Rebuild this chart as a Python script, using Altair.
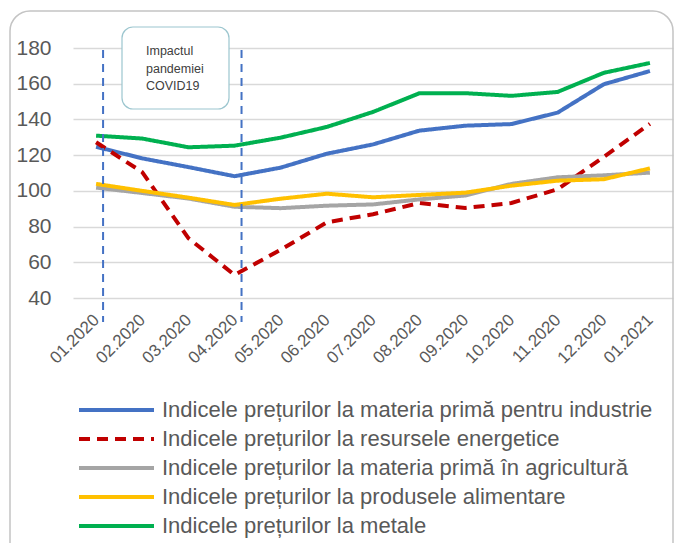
import altair as alt
import pandas as pd

months = ["01.2020", "02.2020", "03.2020", "04.2020", "05.2020", "06.2020", "07.2020",
          "08.2020", "09.2020", "10.2020", "11.2020", "12.2020", "01.2021"]

series_names = [
    "Indicele prețurilor la materia primă pentru industrie",
    "Indicele prețurilor la resursele energetice",
    "Indicele prețurilor la materia primă în agricultură",
    "Indicele prețurilor la produsele alimentare",
    "Indicele prețurilor la metale",
]
series_colors = ["#4472C4", "#C00000", "#A5A5A5", "#FFC000", "#00B050"]
series_dash = [[1, 0], [11, 7], [1, 0], [1, 0], [1, 0]]

industrie = [124.7, 118.2, 113.3, 108.2, 113.0, 120.8, 126.0, 133.7, 136.5, 137.4, 143.8, 159.7, 167.1]
energetice = [127.2, 110.5, 73.5, 52.9, 67.0, 82.4, 86.9, 93.2, 90.4, 93.2, 100.9, 119.0, 137.5]
agricultura = [101.8, 98.8, 95.7, 91.1, 90.3, 91.7, 92.4, 95.2, 97.4, 103.9, 107.6, 108.7, 110.2]
alimentare = [103.9, 100.0, 96.2, 92.1, 95.6, 98.4, 96.4, 97.7, 99.0, 102.9, 105.7, 106.5, 112.6]
metale = [130.9, 129.3, 124.4, 125.3, 129.8, 135.8, 144.2, 154.6, 154.7, 153.2, 155.4, 166.1, 171.6]

y_ticks = [40, 60, 80, 100, 120, 140, 160, 180]
covid_marks = ["01.2020", "04.2020"]
annotation_text = "Impactul\npandemiei\nCOVID19"

rows = []
for name, vals in zip(series_names, [industrie, energetice, agricultura, alimentare, metale]):
    for m, v in zip(months, vals):
        rows.append({"luna": m, "serie": name, "valoare": v})
df = pd.DataFrame(rows)

FONT = "Liberation Sans"
GREY_TXT = "#595959"

x_enc = alt.X("luna:O", sort=months, title=None,
              scale=alt.Scale(type="point", padding=0.5),
              axis=alt.Axis(labelAngle=-45, labelFontSize=17, labelColor=GREY_TXT,
                            labelFont=FONT, ticks=False, domain=False, labelPadding=19,
                            labelAlign="right", labelBaseline="middle"))

lines = alt.Chart(df).mark_line(strokeWidth=4).encode(
    x=x_enc,
    y=alt.Y("valoare:Q", title=None,
            scale=alt.Scale(domain=[40, 180], nice=False, zero=False),
            axis=alt.Axis(values=y_ticks, labelFontSize=21, labelColor=GREY_TXT, labelFont=FONT,
                          ticks=False, domain=False, labelPadding=22,
                          grid=True, gridColor="#D9D9D9", gridWidth=1.5)),
    color=alt.Color("serie:N", sort=series_names, title=None,
                    scale=alt.Scale(domain=series_names, range=series_colors),
                    legend=alt.Legend(orient="none", legendX=4, legendY=351, direction="vertical",
                                      symbolType="stroke", symbolSize=5625, symbolStrokeWidth=4,
                                      clipHeight=22, rowPadding=7, labelFontSize=22,
                                      labelColor=GREY_TXT, labelFont=FONT, labelLimit=700,
                                      labelOffset=6)),
    strokeDash=alt.StrokeDash("serie:N", sort=series_names, title=None,
                              scale=alt.Scale(domain=series_names, range=series_dash)),
    order=alt.Order("serie_order:Q"),
).transform_calculate(
    serie_order="indexof(" + str(series_names) + ", datum.serie)"
)

border = alt.Chart(alt.Data(values=[{}])).mark_rect(
    filled=False, stroke="#C4C4C4", strokeWidth=1.5, cornerRadius=20
).encode(x=alt.value(-63), x2=alt.value(600), y=alt.value(-37), y2=alt.value(515))

box = alt.Chart(alt.Data(values=[{}])).mark_rect(
    fill="white", stroke="#9CC6CF", strokeWidth=1.2, cornerRadius=11
).encode(x=alt.value(49), x2=alt.value(156), y=alt.value(-21), y2=alt.value(61))

box_text = alt.Chart(alt.Data(values=[{"t": annotation_text}])).mark_text(
    align="left", baseline="top", fontSize=12.5, font=FONT, color="#404040",
    lineBreak="\n", lineHeight=17.5
).encode(x=alt.value(73), y=alt.value(-3), text="t:N")

rules = alt.Chart(pd.DataFrame({"luna": covid_marks})).mark_rule(
    color="#4472C4", strokeWidth=2, strokeDash=[8, 6], xOffset=7
).encode(x=alt.X("luna:O", sort=months), y=alt.value(2), y2=alt.value(274))

chart = alt.layer(border, lines, box, box_text, rules).properties(
    width=600, height=250,
    autosize=alt.AutoSizeParams(type="none"),
    padding={"left": 65, "top": 40, "right": 1, "bottom": 245},
).configure_view(stroke=None)

chart.save("out.html", embed_options={"renderer": "svg", "actions": False})
